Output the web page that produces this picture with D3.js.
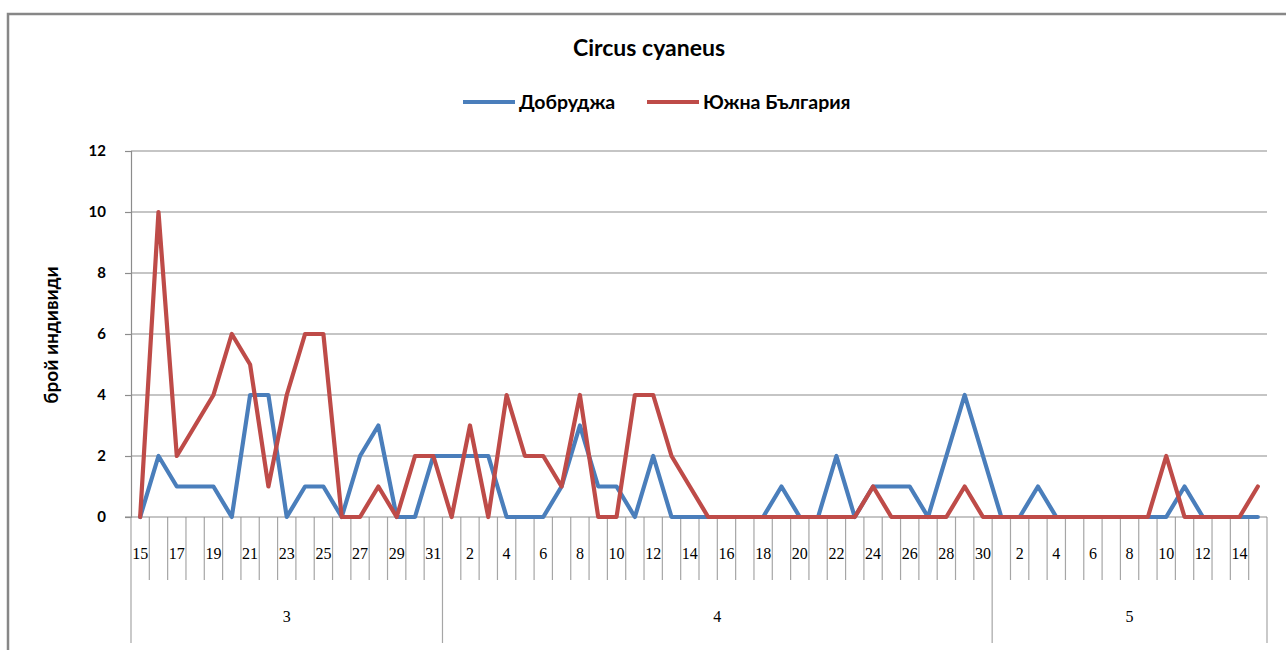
<!DOCTYPE html>
<html>
<head>
<meta charset="utf-8">
<script src="https://cdn.jsdelivr.net/npm/d3@7"></script>
<style>
  html, body { margin: 0; padding: 0; background: #fff; }
  svg { display: block; }
</style>
</head>
<body>
<svg id="chart" width="1286" height="650"></svg>
<script>
// ---- data ----
const title = "Circus cyaneus";
const yAxisTitle = "брой индивиди";
const seriesNames = ["Добруджа", "Южна България"];
const months = ["3", "4", "5"];
const monthDays = [
  [15,16,17,18,19,20,21,22,23,24,25,26,27,28,29,30,31],
  [1,2,3,4,5,6,7,8,9,10,11,12,13,14,15,16,17,18,19,20,21,22,23,24,25,26,27,28,29,30],
  [1,2,3,4,5,6,7,8,9,10,11,12,13,14,15]
];
const dobrudzha = [
  0,2,1,1,1,0,4,4,0,1,1,0,2,3,0,0,2,
  2,2,2,0,0,0,1,3,1,1,0,2,0,0,0,0,0,0,1,0,0,2,0,1,1,1,0,2,4,2,
  0,0,1,0,0,0,0,0,0,0,1,0,0,0,0
];
const yuzhna = [
  0,10,2,3,4,6,5,1,4,6,6,0,0,1,0,2,2,
  0,3,0,4,2,2,1,4,0,0,4,4,2,1,0,0,0,0,0,0,0,0,0,1,0,0,0,0,1,0,
  0,0,0,0,0,0,0,0,0,2,0,0,0,0,1
];
const yTicks = [0,2,4,6,8,10,12];

(function () {
// ---- build categories ----
const cats = [];
monthDays.forEach((days, mi) => days.forEach(d => cats.push({key: months[mi] + "-" + d, month: months[mi], day: d, mi})));

const svg = d3.select("#chart");
const W = 1286, H = 650;
const pLeft = 131, pRight = 1267, pTop = 151, pBottom = 517;

const x = d3.scaleBand().domain(cats.map(c => c.key)).range([pLeft, pRight]).padding(0);
const y = d3.scaleLinear().domain([0, 12]).range([pBottom, pTop]);

const gridColor = "#8c8c8c";
const tickColor = "#a6a6a6";
const sansFont = "Lato, 'Open Sans', sans-serif";
const serifFont = "'Liberation Serif', 'DejaVu Serif', serif";

// outer border (chart area)
svg.append("path")
  .attr("d", `M8,${H} L8,14 L${W},14`)
  .attr("fill", "none").attr("stroke", "#878787").attr("stroke-width", 2.5);

// title
svg.append("text").attr("x", 649).attr("y", 56)
  .attr("text-anchor", "middle").attr("font-family", sansFont)
  .attr("font-weight", "bold").attr("font-size", 23).attr("fill", "#000")
  .text(title);

// gridlines
svg.append("g").selectAll("line").data(yTicks.filter(t => t > 0)).join("line")
  .attr("x1", pLeft).attr("x2", pRight)
  .attr("y1", d => y(d)).attr("y2", d => y(d))
  .attr("stroke", gridColor).attr("stroke-width", 1.2);

// y axis
const yAxis = d3.axisLeft(y).tickValues(yTicks).tickSize(6).tickPadding(19).tickFormat(d3.format("d"));
const yg = svg.append("g").attr("transform", `translate(${pLeft},0)`).call(yAxis);
yg.select(".domain").attr("stroke", gridColor).attr("stroke-width", 1.2);
yg.selectAll(".tick line").attr("stroke", gridColor).attr("stroke-width", 1.2);
yg.selectAll(".tick text").attr("font-family", sansFont).attr("font-weight", "bold")
  .attr("font-size", 15).attr("fill", "#000");

// y axis title
svg.append("text")
  .attr("transform", `translate(58,${(pTop + pBottom) / 2 + 1}) rotate(-90)`)
  .attr("text-anchor", "middle").attr("font-family", sansFont)
  .attr("font-weight", "bold").attr("font-size", 19).attr("fill", "#000")
  .text(yAxisTitle);

// x axis: category ticks
const step = x.step();
const bounds = d3.range(cats.length + 1);
const gx = svg.append("g");
gx.selectAll("line.cat").data(bounds).join("line").attr("class", "cat")
  .attr("x1", i => pLeft + i * step).attr("x2", i => pLeft + i * step)
  .attr("y1", pBottom).attr("y2", i => {
    const isMonthEdge = i === 0 || i === cats.length || (cats[i] && cats[i - 1] && cats[i].mi !== cats[i - 1].mi);
    return isMonthEdge ? 643 : 580;
  })
  .attr("stroke", tickColor).attr("stroke-width", 1.2);

// x axis baseline
svg.append("line").attr("x1", pLeft - 6).attr("x2", pRight).attr("y1", pBottom).attr("y2", pBottom)
  .attr("stroke", gridColor).attr("stroke-width", 1.2);

// day labels (every other)
gx.selectAll("text.day").data(cats.filter((c, i) => i % 2 === 0)).join("text").attr("class", "day")
  .attr("x", c => x(c.key) + step / 2).attr("y", 559)
  .attr("text-anchor", "middle").attr("font-family", serifFont)
  .attr("font-size", 16).attr("fill", "#000")
  .text(c => c.day);

// month labels
months.forEach((m, mi) => {
  const inMonth = cats.filter(c => c.mi === mi);
  const x0 = x(inMonth[0].key), x1 = x(inMonth[inMonth.length - 1].key) + step;
  gx.append("text").attr("x", (x0 + x1) / 2).attr("y", 622)
    .attr("text-anchor", "middle").attr("font-family", serifFont)
    .attr("font-size", 16).attr("fill", "#000").text(m);
});

// lines
const colors = ["#4a7ebb", "#be4b48"];
const seriesData = [dobrudzha, yuzhna];
const line = d3.line().x((d, i) => x(cats[i].key) + step / 2).y(d => y(d)).curve(d3.curveLinear);
seriesData.forEach((s, k) => {
  svg.append("path").datum(s).attr("d", line)
    .attr("fill", "none").attr("stroke", colors[k]).attr("stroke-width", 4.2)
    .attr("stroke-linejoin", "round").attr("stroke-linecap", "round");
});

// legend
const legend = [
  {name: seriesNames[0], color: colors[0], x: 463},
  {name: seriesNames[1], color: colors[1], x: 647}
];
legend.forEach(l => {
  svg.append("line").attr("x1", l.x).attr("x2", l.x + 52).attr("y1", 102).attr("y2", 102)
    .attr("stroke", l.color).attr("stroke-width", 4);
  svg.append("text").attr("x", l.x + 56).attr("y", 108.5)
    .attr("font-family", sansFont).attr("font-size", 19.5).attr("font-weight", "bold").attr("fill", "#000")
    .text(l.name);
});
})();
</script>
</body>
</html>
